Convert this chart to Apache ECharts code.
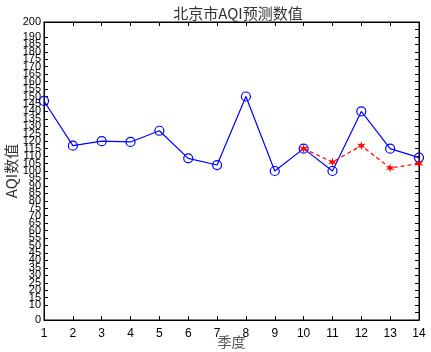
<!DOCTYPE html>
<html><head><meta charset="utf-8">
<script src="https://cdn.jsdelivr.net/npm/echarts@6/dist/echarts.min.js"></script>
<style>html,body{margin:0;padding:0;background:#fff}#c{width:431px;height:352px}</style>
</head><body><div id="c"></div>
<script>
const quarters = [1,2,3,4,5,6,7,8,9,10,11,12,13,14];
const actual = [147,117,120,119.5,127,108.5,104,150,100,115,100,140,115,109];
const predQuarters = [10,11,12,13,14];
const predicted = [115,106,117,102,105];
const titleText = '北京市AQI预测数值';
const xName = '季度';
const yName = 'AQI数值';

const font = 'Liberation Sans, Arial, sans-serif';
const cjk = '"Noto Sans CJK SC", sans-serif';
const chart = echarts.init(document.getElementById('c'));
const axisCommon = {
  axisLine:{show:true,onZero:false,lineStyle:{color:'#000',width:1}},
  axisTick:{show:true,inside:true,length:4,lineStyle:{color:'#000'}},
  splitLine:{show:false},
  nameMoveOverlap:false
};
const starPath = 'path://M0,-10 L2,-3 L9,-5 L4,0 L9,5 L2,3 L0,10 L-2,3 L-9,5 L-4,0 L-9,-5 L-2,-3 Z';
chart.setOption({
  animation:false,
  title:{text:titleText,left:233,textAlign:'center',top:1,textStyle:{fontFamily:cjk,fontWeight:'normal',fontSize:15,color:'#333'}},
  grid:{left:44,right:12,top:22,bottom:32,show:true,borderColor:'#000',borderWidth:1,containLabel:false,outerBoundsMode:'none'},
  xAxis:[
    Object.assign({type:'value',min:1,max:14,interval:1,position:'bottom',
      name:xName,nameLocation:'middle',nameGap:15,nameTextStyle:{fontFamily:cjk,fontSize:14,color:'#555'},
      axisLabel:{fontFamily:font,fontSize:12,color:'#000',margin:8,showMinLabel:true,showMaxLabel:true}},axisCommon),
    Object.assign({type:'value',min:1,max:14,interval:1,position:'top',axisLabel:{show:false}},axisCommon)
  ],
  yAxis:[
    Object.assign({type:'value',min:0,max:200,interval:5,position:'left',
      name:yName,nameLocation:'middle',nameGap:25,nameTextStyle:{fontFamily:cjk,fontSize:15,color:'#333'},
      axisLabel:{fontFamily:font,fontSize:11,color:'#000',margin:3,lineHeight:9,showMinLabel:true,showMaxLabel:true,hideOverlap:false}},axisCommon),
    Object.assign({type:'value',min:0,max:200,interval:5,position:'right',axisLabel:{show:false}},axisCommon)
  ],
  series:[
    {type:'line',data:quarters.map((q,i)=>[q,actual[i]]),xAxisIndex:0,yAxisIndex:0,
      lineStyle:{color:'#0000ff',width:1.2},symbol:'circle',symbolSize:9,
      itemStyle:{color:'rgba(255,255,255,0)',borderColor:'#0000ff',borderWidth:1.2},z:2},
    {type:'line',data:predQuarters.map((q,i)=>[q,predicted[i]]),xAxisIndex:0,yAxisIndex:0,
      lineStyle:{color:'#ff0000',width:1.2,type:[4,3]},symbol:starPath,symbolSize:9,
      itemStyle:{color:'#ff0000',borderWidth:0},z:3}
  ]
});
</script></body></html>
